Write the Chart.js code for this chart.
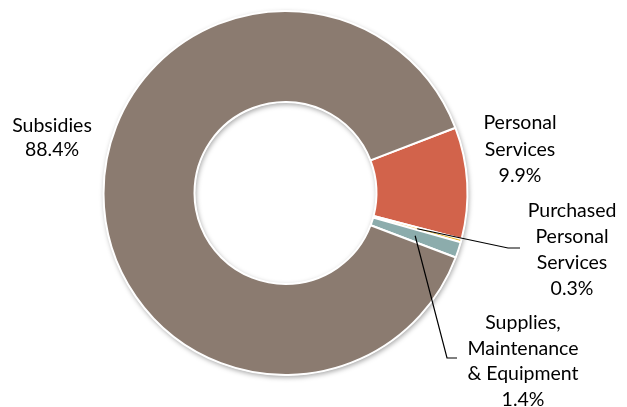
<!DOCTYPE html>
<html><head><meta charset="utf-8">
<script src="https://cdn.jsdelivr.net/npm/chart.js@4.4.1/dist/chart.umd.min.js"></script>
<style>html,body{margin:0;padding:0;background:#fff;overflow:hidden;}</style>
</head><body>
<canvas id="c" width="627" height="407"></canvas>
<script>
const categories = ['Personal Services', 'Purchased Personal Services', 'Supplies, Maintenance & Equipment', 'Subsidies'];
const labelLines = [['Personal', 'Services'], ['Purchased', 'Personal', 'Services'], ['Supplies,', 'Maintenance', '& Equipment'], ['Subsidies']];
const shares = [9.9, 0.3, 1.4, 88.4];
const colors = ['#D2634B', '#E6B82E', '#8CACAC', '#8B7B70'];

// label layout: text centre x, first line centre y, line height, leader elbow points
const labelLayout = [
  {x: 520, y: 122, lh: 26.5},
  {x: 572, y: 210, lh: 26, leader: [[508, 248], [520, 248]]},
  {x: 523, y: 322, lh: 25.5, leader: [[447, 358], [457, 358]]},
  {x: 52, y: 124.5, lh: 24.5}
];

const shadowPlugin = {
  id: 'ringShadow',
  beforeDatasetsDraw(chart) {
    const arc = chart.getDatasetMeta(0).data[0];
    if (!arc) return;
    const {x, y, outerRadius, innerRadius} = arc.getProps(['x', 'y', 'outerRadius', 'innerRadius'], true);
    const ctx = chart.ctx;
    ctx.save();
    ctx.shadowColor = 'rgba(0,0,0,0.35)';
    ctx.shadowBlur = 5;
    ctx.shadowOffsetX = 1;
    ctx.shadowOffsetY = 2;
    ctx.beginPath();
    ctx.arc(x, y, outerRadius + 0.5, 0, Math.PI * 2);
    ctx.arc(x, y, Math.max(innerRadius - 0.5, 0), 0, Math.PI * 2, true);
    ctx.fillStyle = '#ffffff';
    ctx.fill('evenodd');
    ctx.restore();
  }
};

const labelPlugin = {
  id: 'sliceLabels',
  afterDatasetsDraw(chart) {
    const ctx = chart.ctx;
    const meta = chart.getDatasetMeta(0);
    ctx.save();
    meta.data.forEach((arc, i) => {
      const lay = labelLayout[i];
      const p = arc.getProps(['x', 'y', 'startAngle', 'endAngle', 'innerRadius', 'outerRadius'], true);
      if (lay.leader) {
        const mid = (p.startAngle + p.endAngle) / 2;
        const r = (p.innerRadius + p.outerRadius) / 2;
        ctx.beginPath();
        ctx.moveTo(p.x + Math.cos(mid) * r, p.y + Math.sin(mid) * r);
        lay.leader.forEach(pt => ctx.lineTo(pt[0], pt[1]));
        ctx.strokeStyle = '#000';
        ctx.lineWidth = 1.2;
        ctx.stroke();
      }
      const lines = labelLines[i].concat([shares[i].toFixed(1) + '%']);
      ctx.fillStyle = '#000';
      ctx.font = '19.5px Lato';
      ctx.textAlign = 'center';
      ctx.textBaseline = 'middle';
      lines.forEach((t, k) => ctx.fillText(t, lay.x, lay.y + k * lay.lh + 1));
    });
    ctx.restore();
  }
};

new Chart(document.getElementById('c'), {
  type: 'doughnut',
  data: {
    labels: categories,
    datasets: [{
      data: shares,
      backgroundColor: colors,
      borderColor: '#ffffff',
      borderWidth: 2,
      hoverOffset: 0
    }]
  },
  options: {
    responsive: false,
    animation: false,
    rotation: 69,
    cutout: '50%',
    layout: {padding: {left: 102, right: 158, top: 10, bottom: 31}},
    plugins: {legend: {display: false}, tooltip: {enabled: false}}
  },
  plugins: [shadowPlugin, labelPlugin]
});
</script>
</body></html>
